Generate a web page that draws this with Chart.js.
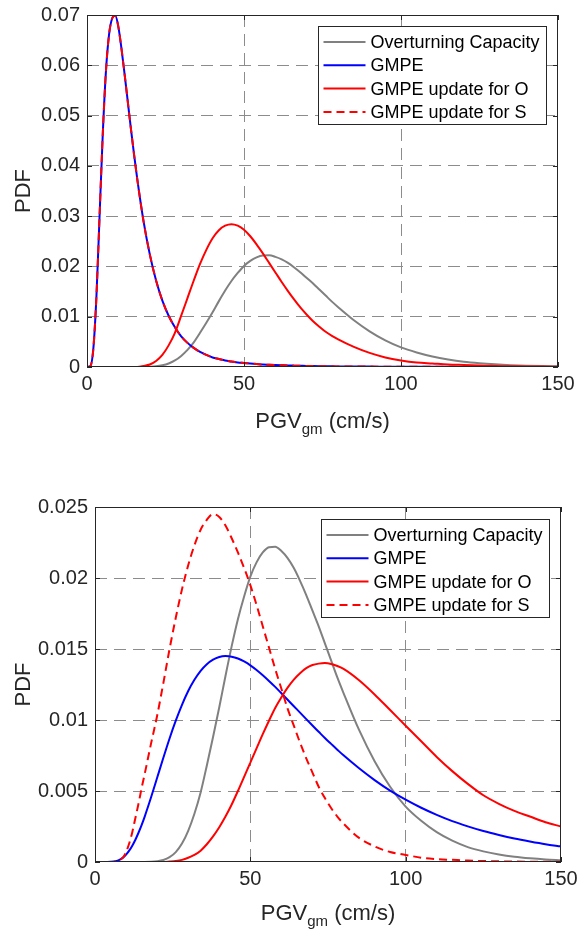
<!DOCTYPE html>
<html>
<head>
<meta charset="utf-8">
<title>PGV PDF</title>
<script src="https://cdn.jsdelivr.net/npm/chart.js@4.4.0/dist/chart.umd.min.js"></script>
<style>
  html, body { margin: 0; background: #fff; overflow: hidden; width: 577px; height: 935px; }
  .panel { position: absolute; left: 0; }
  #topPanel { top: -4px; width: 580px; height: 471px; }
  #bottomPanel { top: 467px; width: 583px; height: 468px; }
</style>
</head>
<body>
<div class="panel" id="topPanel"><canvas id="topChart"></canvas></div>
<div class="panel" id="bottomPanel"><canvas id="bottomChart"></canvas></div>
<script>
const pgv = [0,1,2,3,4,5,6,7,8,9,10,11,12,13,14,15,16,18,20,22,24,26,28,30,32,34,36,38,40,42,44,46,48,50,52,54,56,58,60,62,64,66,68,70,72,74,76,78,80,85,90,95,100,105,110,115,120,125,130,135,140,145,150];

// overturning capacity is the same curve in both panels
const capacity = [0,0,0,0,0,0,0,0,0,0,0,0,0,0,0,0,0,0.00001,0.00005,0.00014,0.00034,0.0007,0.0013,0.0022,0.0034,0.0049,0.0068,0.0088,0.0109,0.0131,0.0152,0.0171,0.0187,0.0201,0.0211,0.0218,0.02217,0.0222,0.0219,0.0214,0.0207,0.0198,0.0188,0.0177,0.0166,0.0154,0.0142,0.0130,0.0119,0.0093,0.0071,0.0053,0.0039,0.0029,0.0021,0.0015,0.00105,0.00075,0.00053,0.00037,0.00026,0.00018,0.00013];

// upper panel
const gmpeTop = [0,0.0001,0.0035,0.0140,0.0300,0.0460,0.0585,0.0660,0.0693,0.0699,0.0676,0.0632,0.0581,0.0527,0.0473,0.0422,0.0374,0.0290,0.0224,0.0172,0.0132,0.0102,0.0079,0.0061,0.0048,0.0038,0.0030,0.0024,0.0019,0.0016,0.0013,0.0011,0.0009,0.0008,0.0007,0.0006,0.0005,0.00045,0.0004,0.00035,0.0003,0.00027,0.00024,0.00021,0.00019,0.00017,0.00015,0.00013,0.00012,0.0001,0.00008,0.00006,0.00005,0.00004,0.00003,0.00003,0.00002,0.00002,0.00001,0.00001,0.00001,0.00001,0];
const updateOTop = [0,0,0,0,0,0,0,0,0,0,0,0,0,0,0,0,0,0.0002,0.0005,0.0012,0.0024,0.0043,0.0068,0.0102,0.0137,0.0172,0.0205,0.0233,0.0256,0.0272,0.0281,0.0284,0.0281,0.0273,0.0260,0.0244,0.0226,0.0207,0.0188,0.0169,0.0151,0.0134,0.0118,0.0104,0.0091,0.0080,0.0070,0.0062,0.0055,0.0040,0.0028,0.0019,0.0013,0.0009,0.0007,0.0005,0.0004,0.0003,0.0002,0.00015,0.0001,0.0001,0.00005];
const updateSTop = gmpeTop.slice(); // lies exactly on the GMPE curve in this panel

// lower panel
const gmpeBottom = [0,0,0,0,0,0.00001,0.00003,0.00008,0.00017,0.00031,0.00052,0.0008,0.00115,0.00157,0.00206,0.0026,0.0032,0.00452,0.00593,0.00734,0.0087,0.00995,0.01107,0.01204,0.01283,0.01346,0.01393,0.01425,0.01444,0.0145,0.01446,0.01433,0.01412,0.01385,0.01352,0.01315,0.01275,0.01233,0.01188,0.01143,0.01097,0.01052,0.01006,0.00961,0.00917,0.00873,0.00832,0.00791,0.00751,0.0066,0.00577,0.00503,0.00439,0.00382,0.00332,0.00288,0.00251,0.00218,0.0019,0.00165,0.00144,0.00125,0.0011];
const updateOBottom = [0,0,0,0,0,0,0,0,0,0,0,0,0,0,0,0,0,0,0,0,0.00003,0.00007,0.00015,0.0003,0.0005,0.0008,0.00125,0.0018,0.00245,0.0032,0.00405,0.0050,0.0060,0.0070,0.0080,0.0090,0.00995,0.01085,0.0116,0.01228,0.01285,0.0133,0.01365,0.01387,0.01397,0.01401,0.01395,0.0138,0.0136,0.0128,0.0118,0.0107,0.0096,0.0085,0.0074,0.0064,0.0055,0.0047,0.0041,0.0036,0.0032,0.0028,0.0025];
const updateSBottom = [0,0,0,0,0,0,0,0.00005,0.00015,0.0003,0.0007,0.0013,0.0021,0.0031,0.0041,0.0052,0.0062,0.0083,0.0103,0.0126,0.0150,0.0172,0.0192,0.0209,0.0223,0.0234,0.0241,0.0245,0.0243,0.0237,0.0228,0.0218,0.0207,0.0195,0.0181,0.0166,0.0151,0.0136,0.0122,0.0108,0.0096,0.0084,0.0073,0.0063,0.0053,0.0045,0.0038,0.0032,0.0027,0.0017,0.0011,0.0007,0.0005,0.0003,0.0002,0.00015,0.0001,0.00007,0.00005,0.00003,0.00002,0.00001,0.00001];

const seriesNames = ['Overturning Capacity', 'GMPE', 'GMPE update for O', 'GMPE update for S'];
const xTicks = [0, 50, 100, 150];
const yTicksTop = [0, 0.01, 0.02, 0.03, 0.04, 0.05, 0.06, 0.07];
const yLabelsTop = ['0', '0.01', '0.02', '0.03', '0.04', '0.05', '0.06', '0.07'];
const yTicksBottom = [0, 0.005, 0.01, 0.015, 0.02, 0.025];
const yLabelsBottom = ['0', '0.005', '0.01', '0.015', '0.02', '0.025'];

const lineColors = ['#808080', '#0000ff', '#ff0000', '#ff0000'];
const lineDashes = [[], [], [], [8, 5]];
const FONT = "'Liberation Sans', Arial, Helvetica, sans-serif";
const AXIS_COLOR = '#262626';
const GRID_COLOR = '#8c8c8c';

// draws the matlab style box, inward ticks, legend and the x label with subscript
const matlabBox = {
    id: 'matlabBox',
    afterDraw: function(chart, args, opts) {
        const ctx = chart.ctx;
        const a = chart.chartArea;
        const xs = chart.scales.x, ys = chart.scales.y;
        ctx.save();

        // box
        ctx.strokeStyle = AXIS_COLOR;
        ctx.lineWidth = 1;
        ctx.setLineDash([]);
        ctx.strokeRect(Math.round(a.left) + 0.5, Math.round(a.top) + 0.5,
                       Math.round(a.right - a.left) - 1, Math.round(a.bottom - a.top) - 1);

        // ticks pointing inside
        const tl = 5;
        ctx.beginPath();
        xTicks.forEach(function(v) {
            const px = Math.round(xs.getPixelForValue(v)) + 0.5;
            ctx.moveTo(px, a.bottom); ctx.lineTo(px, a.bottom - tl);
            ctx.moveTo(px, a.top); ctx.lineTo(px, a.top + tl);
        });
        opts.yTicks.forEach(function(v) {
            const py = Math.round(ys.getPixelForValue(v)) + 0.5;
            ctx.moveTo(a.left, py); ctx.lineTo(a.left + tl, py);
            ctx.moveTo(a.right, py); ctx.lineTo(a.right - tl, py);
        });
        ctx.stroke();

        // legend
        ctx.font = '18px ' + FONT;
        let textW = 0;
        seriesNames.forEach(function(n) { textW = Math.max(textW, ctx.measureText(n).width); });
        const boxW = Math.round(5 + 42 + 5 + textW + 7);
        const boxH = 98;
        const bx = Math.round(a.right - opts.legendRight - boxW) + 0.5;
        const by = Math.round(a.top + opts.legendTop) + 0.5;
        ctx.fillStyle = '#ffffff';
        ctx.fillRect(bx, by, boxW, boxH);
        ctx.strokeStyle = AXIS_COLOR;
        ctx.strokeRect(bx, by, boxW, boxH);
        ctx.textBaseline = 'middle';
        ctx.textAlign = 'left';
        seriesNames.forEach(function(n, i) {
            const ry = by + 15.5 + i * 23.3;
            ctx.strokeStyle = lineColors[i];
            ctx.lineWidth = 2;
            ctx.setLineDash(lineDashes[i]);
            ctx.beginPath();
            ctx.moveTo(bx + 5, ry); ctx.lineTo(bx + 47, ry);
            ctx.stroke();
            ctx.setLineDash([]);
            ctx.fillStyle = '#000000';
            ctx.fillText(n, bx + 52, ry + 1);
        });

        // x axis label: PGV_gm (cm/s)
        const main = '22px ' + FONT, sub = '15px ' + FONT;
        ctx.font = main; const w1 = ctx.measureText('PGV').width; const w3 = ctx.measureText(' (cm/s)').width;
        ctx.font = sub; const w2 = ctx.measureText('gm').width;
        let x0 = (a.left + a.right) / 2 - (w1 + w2 + w3) / 2;
        const base = a.bottom + opts.titleOffset;
        ctx.fillStyle = AXIS_COLOR;
        ctx.textBaseline = 'alphabetic';
        ctx.font = main; ctx.fillText('PGV', x0, base);
        ctx.font = sub; ctx.fillText('gm', x0 + w1, base + 6);
        ctx.font = main; ctx.fillText(' (cm/s)', x0 + w1 + w2, base);
        ctx.restore();
    }
};

function buildChart(id, series, yTicks, yLabels, frame) {
    const datasets = series.map(function(vals, i) {
        return {
            label: seriesNames[i],
            data: pgv.map(function(x, k) { return {x: x, y: vals[k]}; }),
            borderColor: lineColors[i],
            borderDash: lineDashes[i],
            borderWidth: 2,
            pointRadius: 0,
            fill: false,
            cubicInterpolationMode: 'monotone',
            order: series.length - i
        };
    });
    const lastX = xTicks.length - 1, lastY = yTicks.length - 1;
    return new Chart(document.getElementById(id), {
        type: 'line',
        data: { datasets: datasets },
        options: {
            responsive: true,
            maintainAspectRatio: false,
            animation: false,
            devicePixelRatio: 1,
            layout: { padding: { top: frame.top, right: 22, left: 0, bottom: 0 } },
            plugins: {
                legend: { display: false },
                tooltip: { enabled: false },
                matlabBox: { yTicks: yTicks, legendRight: frame.legendRight, legendTop: frame.legendTop, titleOffset: frame.titleOffset }
            },
            scales: {
                x: {
                    type: 'linear', min: 0, max: 150,
                    afterBuildTicks: function(s) { s.ticks = xTicks.map(function(v) { return {value: v}; }); },
                    afterFit: function(s) { s.height = frame.xHeight; },
                    ticks: { font: { family: FONT, size: 20 }, color: AXIS_COLOR, padding: 5, maxRotation: 0, autoSkip: false },
                    grid: { drawTicks: false, lineWidth: 1,
                            color: function(c) { return (c.index === 0 || c.index === lastX) ? 'rgba(0,0,0,0)' : GRID_COLOR; } },
                    border: { display: false, dash: [12, 7] }
                },
                y: {
                    type: 'linear', min: 0, max: yTicks[lastY],
                    afterBuildTicks: function(s) { s.ticks = yTicks.map(function(v) { return {value: v}; }); },
                    afterFit: function(s) { s.width = frame.left; },
                    ticks: { font: { family: FONT, size: 20 }, color: AXIS_COLOR, padding: 7, autoSkip: false,
                             callback: function(v, i) { return yLabels[i]; } },
                    grid: { drawTicks: false, lineWidth: 1,
                            color: function(c) { return (c.index === 0 || c.index === lastY) ? 'rgba(0,0,0,0)' : GRID_COLOR; } },
                    border: { display: false, dash: [12, 7] },
                    title: { display: true, text: 'PDF', color: AXIS_COLOR, font: { family: FONT, size: 22 }, padding: { top: 11, bottom: 0 } }
                }
            }
        },
        plugins: [matlabBox]
    });
}

buildChart('topChart', [capacity, gmpeTop, updateOTop, updateSTop], yTicksTop, yLabelsTop,
    { top: 19, left: 87, xHeight: 100, legendRight: 12, legendTop: 11, titleOffset: 61 });
buildChart('bottomChart', [capacity, gmpeBottom, updateOBottom, updateSBottom], yTicksBottom, yLabelsBottom,
    { top: 40, left: 95, xHeight: 73, legendRight: 12, legendTop: 12, titleOffset: 58 });
</script>
</body>
</html>
